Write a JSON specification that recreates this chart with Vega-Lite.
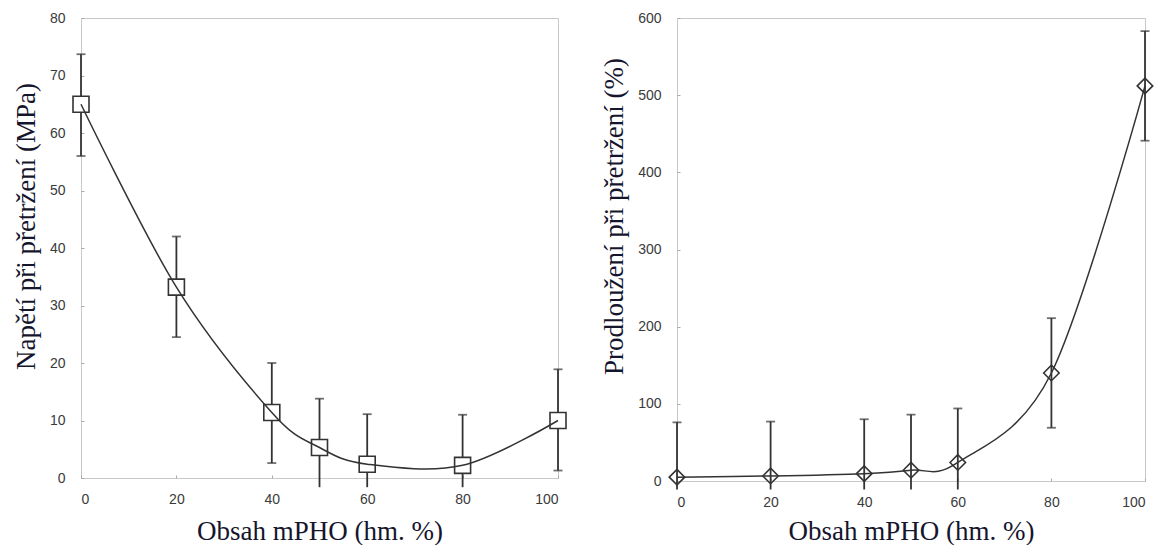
{
  "$schema": "https://vega.github.io/schema/vega-lite/v6.json",
  "background": "white",
  "padding": {"left": 11, "top": 10, "right": 5, "bottom": 0},
  "spacing": 30,
  "config": {
    "view": {"stroke": "#c8c8c8", "strokeWidth": 1},
    "axis": {
      "grid": false,
      "domain": false,
      "tickColor": "#aaaaaa",
      "tickSize": -3,
      "labelFont": "Liberation Sans",
      "labelFontSize": 14,
      "labelColor": "#3a3a3a",
      "titleFont": "Liberation Serif",
      "titleFontSize": 27,
      "titleFontWeight": "normal",
      "titleColor": "#15152e"
    },
    "axisX": {"labelPadding": 17, "titlePadding": 12},
    "axisY": {"labelPadding": 19, "titlePadding": 9}
  },
  "hconcat": [
    {
      "width": 477,
      "height": 460,
      "data": {"values": [
        {"x": 0, "y": 65.0, "lo": 56.0, "hi": 73.7},
        {"x": 20, "y": 33.2, "lo": 24.5, "hi": 42.0},
        {"x": 40, "y": 11.4, "lo": 2.6, "hi": 20.0},
        {"x": 50, "y": 5.3, "lo": -1.6, "hi": 13.8},
        {"x": 60, "y": 2.4, "lo": -1.6, "hi": 11.1},
        {"x": 80, "y": 2.2, "lo": -1.6, "hi": 11.0},
        {"x": 100, "y": 10.0, "lo": 1.3, "hi": 18.9}
      ]},
      "encoding": {
        "x": {"field": "x", "type": "quantitative", "scale": {"domain": [0, 100], "nice": false},
              "axis": {"values": [0, 20, 40, 60, 80, 100], "title": "Obsah mPHO (hm. %)"}}
      },
      "layer": [
        {
          "mark": {"type": "rule", "color": "#333333", "strokeWidth": 1.8},
          "encoding": {
            "y": {"field": "lo", "type": "quantitative", "scale": {"domain": [0, 80], "nice": false},
                  "axis": {"values": [0, 10, 20, 30, 40, 50, 60, 70, 80], "title": "Napětí při přetržení (MPa)", "titleY": 208}},
            "y2": {"field": "hi"}
          }
        },
        {
          "mark": {"type": "tick", "orient": "horizontal", "color": "#333333", "size": 9, "thickness": 1.8},
          "encoding": {"y": {"field": "hi", "type": "quantitative"}}
        },
        {
          "transform": [{"filter": "datum.lo >= 0"}],
          "mark": {"type": "tick", "orient": "horizontal", "color": "#333333", "size": 9, "thickness": 1.8},
          "encoding": {"y": {"field": "lo", "type": "quantitative"}}
        },
        {
          "mark": {"type": "point", "shape": "square", "size": 256, "filled": true, "fill": "white", "stroke": "#333333", "strokeWidth": 1.6, "opacity": 1},
          "encoding": {"y": {"field": "y", "type": "quantitative"}}
        },
        {
          "mark": {"type": "line", "interpolate": "cardinal", "tension": 0, "color": "#333333", "strokeWidth": 1.5},
          "encoding": {"y": {"field": "y", "type": "quantitative"}}
        }
      ]
    },
    {
      "width": 468,
      "height": 463,
      "data": {"values": [
        {"x": 0, "y": 5, "lo": -11, "hi": 76},
        {"x": 20, "y": 6.5, "lo": -11, "hi": 77},
        {"x": 40, "y": 9.5, "lo": -11, "hi": 80},
        {"x": 50, "y": 14, "lo": -11, "hi": 86},
        {"x": 60, "y": 24, "lo": -11, "hi": 94},
        {"x": 80, "y": 140, "lo": 69, "hi": 211},
        {"x": 100, "y": 512, "lo": 441, "hi": 583}
      ]},
      "encoding": {
        "x": {"field": "x", "type": "quantitative", "scale": {"domain": [0, 100], "nice": false},
              "axis": {"values": [0, 20, 40, 60, 80, 100], "title": "Obsah mPHO (hm. %)", "titlePadding": 9}}
      },
      "layer": [
        {
          "mark": {"type": "rule", "color": "#333333", "strokeWidth": 1.8},
          "encoding": {
            "y": {"field": "lo", "type": "quantitative", "scale": {"domain": [0, 600], "nice": false},
                  "axis": {"values": [0, 100, 200, 300, 400, 500, 600], "title": "Prodloužení při přetržení (%)", "titleY": 198}},
            "y2": {"field": "hi"}
          }
        },
        {
          "mark": {"type": "tick", "orient": "horizontal", "color": "#333333", "size": 9, "thickness": 1.8},
          "encoding": {"y": {"field": "hi", "type": "quantitative"}}
        },
        {
          "transform": [{"filter": "datum.lo >= 0"}],
          "mark": {"type": "tick", "orient": "horizontal", "color": "#333333", "size": 9, "thickness": 1.8},
          "encoding": {"y": {"field": "lo", "type": "quantitative"}}
        },
        {
          "mark": {"type": "line", "interpolate": "cardinal", "tension": 0, "color": "#333333", "strokeWidth": 1.5},
          "encoding": {"y": {"field": "y", "type": "quantitative"}}
        },
        {
          "mark": {"type": "point", "shape": "diamond", "size": 240, "filled": false, "stroke": "#333333", "strokeWidth": 1.6, "opacity": 1},
          "encoding": {"y": {"field": "y", "type": "quantitative"}}
        }
      ]
    }
  ]
}
